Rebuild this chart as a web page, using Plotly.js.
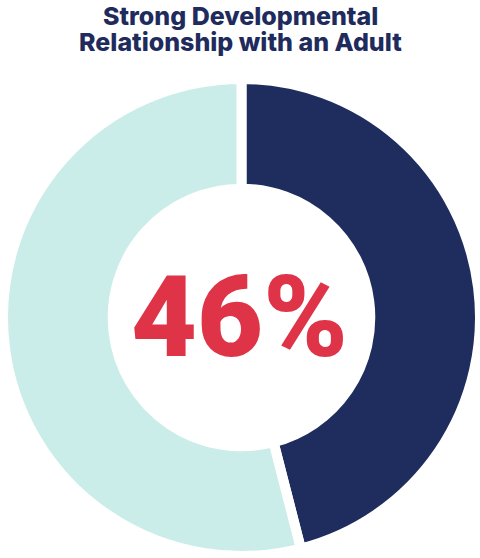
<!DOCTYPE html>
<html>
<head>
<meta charset="utf-8">
<script src="https://cdn.plot.ly/plotly-3.0.1.min.js"></script>
<style>
  html, body { margin: 0; padding: 0; background: #ffffff; }
  #chart { width: 480px; height: 558px; }
</style>
</head>
<body>
<div id="chart"></div>
<script>
// Data
const categories = ["Strong developmental relationship", "Other"];
const values = [46, 54];
const sliceColors = ["#1E2D5E", "#CBEDEA"];
const titleLines = ["Strong Developmental", "Relationship with an Adult"];
const centerLabel = values[0] + "%";

const trace = {
  type: "pie",
  labels: categories,
  values: values,
  sort: false,
  direction: "clockwise",
  rotation: 0,
  hole: 0.54,
  textinfo: "none",
  hoverinfo: "label+percent",
  marker: {
    colors: sliceColors,
    line: { color: "#ffffff", width: 10 }
  },
  domain: { x: [0.00625, 1.0], y: [0.0036, 0.8584] },
  showlegend: false
};

const titleFont = { family: "Inter, 'DejaVu Sans', sans-serif", size: 25, weight: 800, color: "#1E2B5C" };
const titleY = [16, 42];

const annotations = titleLines.map((t, i) => ({
  text: t,
  xref: "paper", yref: "paper",
  x: 0.5, y: 1 - titleY[i] / 558,
  xanchor: "center", yanchor: "middle",
  showarrow: false,
  font: titleFont
}));

annotations.push({
  text: centerLabel,
  xref: "paper",
  yref: "paper",
  x: 239 / 480,
  y: 1 - 317 / 558,
  xanchor: "center",
  yanchor: "middle",
  showarrow: false,
  font: { family: "Roboto, Inter, sans-serif", size: 114, weight: 900, color: "#DF3348" }
});

const layout = {
  width: 480,
  height: 558,
  margin: { l: 0, r: 0, t: 0, b: 0 },
  paper_bgcolor: "#ffffff",
  plot_bgcolor: "#ffffff",
  showlegend: false,
  annotations: annotations
};

Plotly.newPlot("chart", [trace], layout, { displayModeBar: false, staticPlot: true });
</script>
</body>
</html>
